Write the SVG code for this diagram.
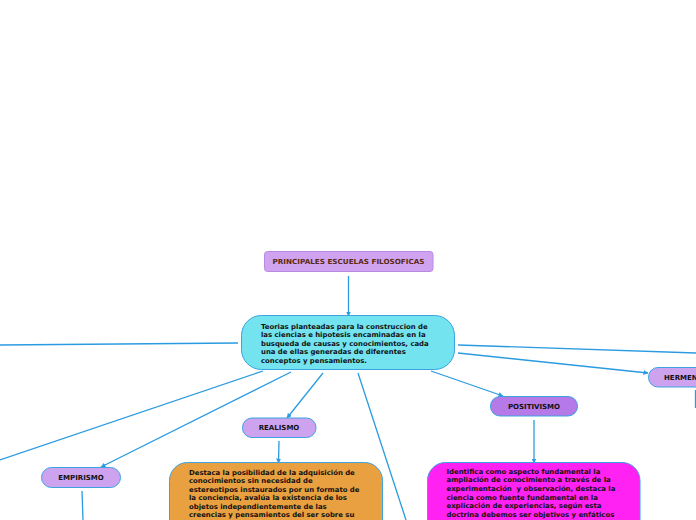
<svg xmlns="http://www.w3.org/2000/svg" width="696" height="520" viewBox="0 0 696 520">
<defs>
<marker id="ah" viewBox="0 0 10 10" refX="9" refY="5" markerWidth="5" markerHeight="5" orient="auto" markerUnits="userSpaceOnUse">
<path d="M0,0 L10,5 L0,10 z" fill="#2a9be0"/>
</marker>
<style>
.c{stroke:#2a9be0;stroke-width:1.3;fill:none}
.a{marker-end:url(#ah)}
.t{font-family:"DejaVu Sans",Verdana,sans-serif;font-weight:bold;font-size:6.9px;fill:#111}
.lbl{font-family:"DejaVu Sans",Verdana,sans-serif;font-weight:bold;font-size:7px;fill:#111;text-anchor:middle}
.nb{stroke:#3aa3e0;stroke-width:1}
</style>
</defs>
<rect width="696" height="520" fill="#fff"/>
<g id="connectors">
<line class="c a" x1="348.5" y1="276" x2="348.5" y2="316"/>
<line class="c" x1="238" y1="343" x2="0" y2="345"/>
<line class="c" x1="263" y1="371" x2="0" y2="460"/>
<line class="c a" x1="291" y1="372" x2="101" y2="467"/>
<line class="c a" x1="323" y1="373" x2="287" y2="418"/>
<line class="c" x1="358" y1="373" x2="406" y2="520"/>
<line class="c a" x1="431" y1="371" x2="503" y2="396"/>
<line class="c a" x1="458" y1="353" x2="648" y2="373"/>
<line class="c" x1="458" y1="345" x2="696" y2="353"/>
<line class="c" x1="82" y1="491" x2="83" y2="520"/>
<line class="c a" x1="279" y1="441" x2="278.5" y2="463"/>
<line class="c a" x1="534" y1="420" x2="534" y2="463"/>
<line class="c" x1="695.5" y1="390" x2="695.5" y2="408"/>
</g>
<g id="title">
<rect x="264.5" y="251.5" width="168.5" height="20" rx="3" fill="#cfa3ef" stroke="#b98ae0" stroke-width="1"/>
<text class="lbl" x="348.5" y="264" style="fill:#5b2a10" textLength="152" lengthAdjust="spacingAndGlyphs">PRINCIPALES ESCUELAS FILOSOFICAS</text>
</g>
<g id="central">
<rect x="241.5" y="315.5" width="213" height="54" rx="20" fill="#72e3ef" class="nb"/>
<text class="t" x="261" y="328.5">Teorias planteadas para la construccion de</text>
<text class="t" x="261" y="337">las ciencias e hipotesis encaminadas en la</text>
<text class="t" x="261" y="345.5">busqueda de causas y conocimientos, cada</text>
<text class="t" x="261" y="354">una de ellas generadas de diferentes</text>
<text class="t" x="261" y="362.5">conceptos y pensamientos.</text>
</g>
<g id="empirismo">
<rect x="41.5" y="467.5" width="79" height="20" rx="10" fill="#cda3ef" class="nb"/>
<text class="lbl" x="81" y="480">EMPIRISMO</text>
</g>
<g id="realismo">
<rect x="242.5" y="418" width="73.5" height="19.5" rx="9.5" fill="#cda3ef" class="nb"/>
<text class="lbl" x="279" y="430.3">REALISMO</text>
</g>
<g id="realismo-desc">
<rect x="169.5" y="462.5" width="213" height="80" rx="18" fill="#e8a040" class="nb"/>
<text class="t" x="189" y="474.5">Destaca la posibilidad de la adquisición de</text>
<text class="t" x="189" y="483">conocimientos sin necesidad de</text>
<text class="t" x="189" y="491.5">estereotipos instaurados por un formato de</text>
<text class="t" x="189" y="500">la conciencia, avalúa la existencia de los</text>
<text class="t" x="189" y="508.5">objetos independientemente de las</text>
<text class="t" x="189" y="517">creencias y pensamientos del ser sobre su</text>
</g>
<g id="positivismo">
<rect x="490.5" y="396.5" width="87" height="19.5" rx="9.5" fill="#b57ae8" class="nb"/>
<text class="lbl" x="534" y="408.8">POSITIVISMO</text>
</g>
<g id="positivismo-desc">
<rect x="427.5" y="462.5" width="212.5" height="80" rx="18" fill="#ff22f2" class="nb"/>
<text class="t" x="446.5" y="474">Identifica como aspecto fundamental la</text>
<text class="t" x="446.5" y="482">ampliación de conocimiento a través de la</text>
<text class="t" x="446.5" y="490.8" xml:space="preserve">experimentación  y observación, destaca la</text>
<text class="t" x="446.5" y="499.5">ciencia como fuente fundamental en la</text>
<text class="t" x="446.5" y="508">explicación de experiencias, según esta</text>
<text class="t" x="446.5" y="516.8">doctrina debemos ser objetivos y enfáticos</text>
</g>
<g id="hermeneutica">
<rect x="648.5" y="367.5" width="80" height="19.5" rx="9.5" fill="#cda3ef" class="nb"/>
<text class="t" x="664" y="380" style="font-size:7px">HERMENEUTICA</text>
</g>
</svg>
